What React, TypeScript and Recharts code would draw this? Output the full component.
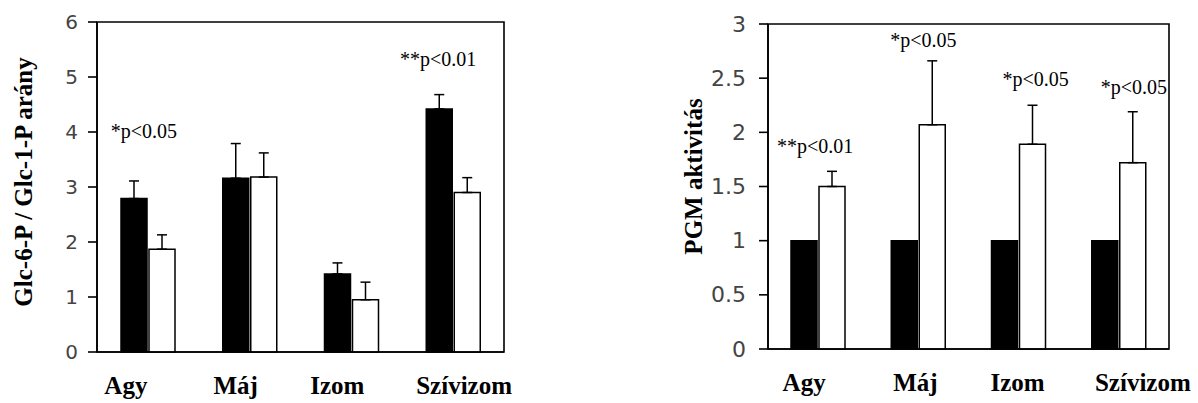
import React from 'react';
import { BarChart, Bar, XAxis, YAxis, ErrorBar, ReferenceArea, ReferenceDot } from 'recharts';

const categories = ['Agy', 'Máj', 'Izom', 'Szívizom'];

// Left chart: Glc-6-P / Glc-1-P arány
const ratioControl = [2.79, 3.16, 1.42, 4.42];
const ratioControlErr = [0.32, 0.63, 0.2, 0.26];
const ratioTreated = [1.87, 3.18, 0.95, 2.9];
const ratioTreatedErr = [0.26, 0.44, 0.32, 0.27];
const ratioTicks = [0, 1, 2, 3, 4, 5, 6];

// Right chart: PGM aktivitás
const pgmControl = [1, 1, 1, 1];
const pgmTreated = [1.5, 2.07, 1.89, 1.72];
const pgmTreatedErr = [0.14, 0.59, 0.36, 0.47];
const pgmTicks = [0, 0.5, 1, 1.5, 2, 2.5, 3];

// Significance annotations (category, text, value level of text baseline)
const ratioNotes = [
  { cat: 'Agy', text: '*p<0.05', level: 3.9 },
  { cat: 'Szívizom', text: '**p<0.01', level: 5.2 },
];
const pgmNotes = [
  { cat: 'Agy', text: '**p<0.01', level: 1.81 },
  { cat: 'Máj', text: '*p<0.05', level: 2.79 },
  { cat: 'Izom', text: '*p<0.05', level: 2.43 },
  { cat: 'Szívizom', text: '*p<0.05', level: 2.35 },
];

const ratioData = categories.map((c, i) => ({
  cat: c,
  control: ratioControl[i],
  controlErr: [0, ratioControlErr[i]],
  treated: ratioTreated[i],
  treatedErr: [0, ratioTreatedErr[i]],
}));

const pgmData = categories.map((c, i) => ({
  cat: c,
  control: pgmControl[i],
  treated: pgmTreated[i],
  treatedErr: [0, pgmTreatedErr[i]],
}));

const SERIF = '"Liberation Serif", "Times New Roman", serif';
const SANS = '"DejaVu Sans", "Liberation Sans", Arial, sans-serif';

// label nudges (px) per category
const leftTickDx = [-22, -14, -14, 11];
const rightTickDx = [-14, -3, -1, 24];
const leftNoteDx: Record<string, number> = { Agy: -4, 'Szívizom': -15 };
const rightNoteDx: Record<string, number> = { Agy: -3, 'Máj': 5, Izom: 17, 'Szívizom': 15 };

const makeXTick = (dxs: number[]) => (props: any) => {
  const { x, y, payload, index } = props;
  return (
    <text
      x={x + (dxs[index] ?? 0)}
      y={y + 40}
      textAnchor="middle"
      fontFamily={SERIF}
      fontWeight="bold"
      fontSize={25}
      fill="#000"
    >
      {payload.value}
    </text>
  );
};

const makeYTick = (size: number, gap: number) => (props: any) => {
  const { x, y, payload } = props;
  return (
    <text
      x={x - gap}
      y={y}
      textAnchor="end"
      dominantBaseline="central"
      style={{ fontFamily: SANS, fontSize: size, fill: '#444' }}
    >
      {String(payload.value)}
    </text>
  );
};

const makeYLabel = (text: string, dx: number, dy: number) => (props: any) => {
  const vb = props.viewBox || {};
  const cx = vb.x + dx;
  const cy = vb.y + vb.height / 2 + dy;
  return (
    <text
      x={cx}
      y={cy}
      transform={`rotate(-90, ${cx}, ${cy})`}
      textAnchor="middle"
      dominantBaseline="central"
      fontFamily={SERIF}
      fontWeight="bold"
      fontSize={25}
      fill="#000"
    >
      {text}
    </text>
  );
};

const noteShape = (text: string, dx: number) => (p: any) => (
  <text x={p.cx + dx} y={p.cy} textAnchor="middle" fontFamily={SERIF} fontSize={20} fill="#000">
    {text}
  </text>
);

const axisStroke = { stroke: '#000', strokeWidth: 1.6 };

export default function App() {
  return (
    <div style={{ position: 'absolute', left: 0, top: 0, width: 1198, height: 403, background: '#fff' }}>
      <div style={{ position: 'absolute', left: 0, top: 0 }}>
        <BarChart
          width={600}
          height={403}
          data={ratioData}
          margin={{ top: 22, right: 96, bottom: 0, left: 5 }}
          barSize={26}
          barGap={2}
        >
          <ReferenceArea y1={0} y2={6} fill="none" stroke="#000" strokeWidth={1.6} ifOverflow="visible" />
          <XAxis
            dataKey="cat"
            height={51}
            axisLine={axisStroke}
            tickLine={false}
            tickSize={0}
            tick={makeXTick(leftTickDx)}
            interval={0}
          />
          <YAxis
            width={92}
            domain={[0, 6]}
            ticks={ratioTicks}
            axisLine={axisStroke}
            tickLine={axisStroke}
            tickSize={9}
            tickMargin={0}
            tick={makeYTick(20, 10)}
            label={makeYLabel('Glc-6-P / Glc-1-P arány', 18, -5)}
          />
          <Bar dataKey="control" fill="#000" stroke="#000" strokeWidth={1.5} isAnimationActive={false}>
            <ErrorBar dataKey="controlErr" direction="y" width={5} stroke="#000" strokeWidth={1.5} />
          </Bar>
          <Bar dataKey="treated" fill="#fff" stroke="#000" strokeWidth={1.5} isAnimationActive={false}>
            <ErrorBar dataKey="treatedErr" direction="y" width={5} stroke="#000" strokeWidth={1.5} />
          </Bar>
          {ratioNotes.map((n) => (
            <ReferenceDot
              key={n.cat}
              x={n.cat}
              y={n.level}
              r={0}
              ifOverflow="visible"
              shape={noteShape(n.text, leftNoteDx[n.cat] ?? 0)}
            />
          ))}
        </BarChart>
      </div>
      <div style={{ position: 'absolute', left: 600, top: 0 }}>
        <BarChart
          width={598}
          height={403}
          data={pgmData}
          margin={{ top: 24, right: 29, bottom: 0, left: 5 }}
          barSize={26}
          barGap={2}
        >
          <ReferenceArea y1={0} y2={3} fill="none" stroke="#000" strokeWidth={1.6} ifOverflow="visible" />
          <XAxis
            dataKey="cat"
            height={54}
            axisLine={axisStroke}
            tickLine={false}
            tickSize={0}
            tick={makeXTick(rightTickDx)}
            interval={0}
          />
          <YAxis
            width={163}
            domain={[0, 3]}
            ticks={pgmTicks}
            axisLine={axisStroke}
            tickLine={axisStroke}
            tickSize={9}
            tickMargin={0}
            tick={makeYTick(22, 13)}
            label={makeYLabel('PGM aktivitás', 88, -10)}
          />
          <Bar dataKey="control" fill="#000" stroke="#000" strokeWidth={1.5} isAnimationActive={false} />
          <Bar dataKey="treated" fill="#fff" stroke="#000" strokeWidth={1.5} isAnimationActive={false}>
            <ErrorBar dataKey="treatedErr" direction="y" width={5} stroke="#000" strokeWidth={1.5} />
          </Bar>
          {pgmNotes.map((n) => (
            <ReferenceDot
              key={n.cat}
              x={n.cat}
              y={n.level}
              r={0}
              ifOverflow="visible"
              shape={noteShape(n.text, rightNoteDx[n.cat] ?? 0)}
            />
          ))}
        </BarChart>
      </div>
    </div>
  );
}
